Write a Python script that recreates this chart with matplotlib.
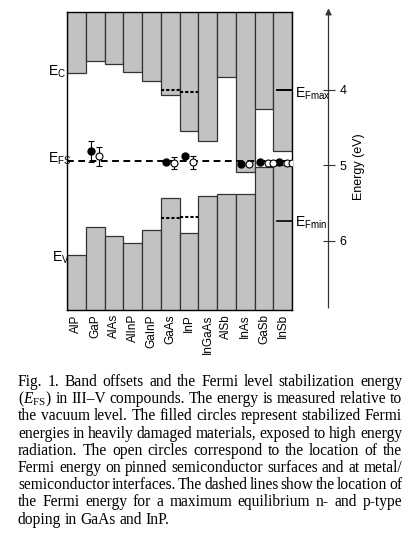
import matplotlib
matplotlib.use("Agg")
import matplotlib.pyplot as plt
import numpy as np

plt.rcParams["font.family"] = ["Liberation Sans", "DejaVu Sans"]
plt.rcParams["mathtext.fontset"] = "custom"
plt.rcParams["mathtext.rm"] = "Liberation Serif"
plt.rcParams["mathtext.it"] = "Liberation Serif:italic"
plt.rcParams["mathtext.default"] = "regular"

# Band edges relative to vacuum level (eV, drawn downwards)
materials = ["AlP", "GaP", "AlAs", "AlInP", "GaInP", "GaAs", "InP",
             "InGaAs", "AlSb", "InAs", "GaSb", "InSb"]
e_cond = [3.78, 3.61, 3.66, 3.76, 3.885, 4.06, 4.54, 4.67, 3.83, 5.09, 4.25, 4.81]
e_val = [6.19, 5.82, 5.93, 6.03, 5.85, 5.43, 5.90, 5.41, 5.38, 5.38, 5.02, 4.99]
e_fs = 4.945
e_fmax = 4.0
e_fmin = 5.73

# Fermi level at max n/p doping (dashed lines)
dop_mat = ["GaAs", "InP"]
dop_n = [4.00, 4.03]
dop_p = [5.70, 5.68]

# filled = damaged material, open = pinned surfaces / interfaces
filled_mat = ["GaP", "GaAs", "InP", "InAs", "GaSb", "InSb"]
filled_e = [4.81, 4.96, 4.88, 4.98, 4.96, 4.96]
filled_err = [0.14, 0, 0, 0, 0, 0]
open_mat = ["GaP", "GaAs", "InP", "InAs", "GaSb", "GaSb", "InSb", "InSb"]
open_e = [4.88, 4.97, 4.96, 4.98, 4.97, 4.97, 4.97, 4.97]
open_err = [0.13, 0.08, 0.09, 0, 0, 0, 0, 0]

energy_ticks = [4, 5, 6]
e_top, e_bot = 2.967, 6.914

caption = [
    "Fig. 1. Band offsets and the Fermi level stabilization energy",
    r"($\mathit{E}_\mathrm{FS}$) in III–V compounds. The energy is measured relative to",
    "the vacuum level. The filled circles represent stabilized Fermi",
    "energies in heavily damaged materials, exposed to high energy",
    "radiation. The open circles correspond to the location of the",
    "Fermi energy on pinned semiconductor surfaces and at metal/",
    "semiconductor interfaces. The dashed lines show the location of",
    "the Fermi energy for a maximum equilibrium n- and p-type",
    "doping in GaAs and InP.",
]

W, H = 417, 533
fig = plt.figure(figsize=(W / 100, H / 100), dpi=100)
ax = fig.add_axes([67 / W, 1 - 310 / H, 225 / W, 298 / H])

gray, edge = "#c2c2c2", "#333333"
x = np.arange(len(materials))
pos = {m: i for i, m in enumerate(materials)}
ec = np.array(e_cond)
ev = np.array(e_val)
ax.bar(x, ec - (e_top - 0.1), bottom=e_top - 0.1, width=1.0,
       color=gray, edgecolor=edge, lw=0.9)
ax.bar(x, (e_bot + 0.1) - ev, bottom=ev, width=1.0,
       color=gray, edgecolor=edge, lw=0.9)

ax.set_xlim(-0.5, len(materials) - 0.5)
ax.set_ylim(e_bot, e_top)
ax.set_yticks([])
ax.set_xticks(x)
ax.set_xticklabels(materials, rotation=90, fontsize=8.5)
ax.tick_params(axis="x", length=0, pad=3)
for s in ax.spines.values():
    s.set_linewidth(1.0)
    s.set_color("black")

# stabilization energy
ax.axhline(e_fs, color="black", lw=1.4, ls=(0, (3.5, 2.3)), zorder=4)

# max doping levels
for m, en, ep in zip(dop_mat, dop_n, dop_p):
    i = pos[m]
    ax.plot([i - 0.5, i + 0.5], [en, en], color="black", lw=1.5,
            ls=(0, (1.5, 1.0)), zorder=4)
    ax.plot([i - 0.5, i + 0.5], [ep, ep], color="black", lw=1.5,
            ls=(0, (1.5, 1.0)), zorder=4)

# E_Fmax / E_Fmin in InSb
j = len(materials) - 1
ax.plot([j - 0.3, j + 0.5], [e_fmax, e_fmax], color="black", lw=1.4, zorder=4)
ax.plot([j - 0.3, j + 0.5], [e_fmin, e_fmin], color="black", lw=1.2, zorder=4)
ax.text(j + 0.66, e_fmax + 0.05, "E$_{Fmax}$", fontsize=10, va="center",
        ha="left", clip_on=False)
ax.text(j + 0.66, e_fmin + 0.03, "E$_{Fmin}$", fontsize=10, va="center",
        ha="left", clip_on=False)

# points
fx = [pos[m] - 0.22 for m in filled_mat]
ax.errorbar(fx, filled_e, yerr=filled_err, fmt="o", ms=5, mfc="black",
            mec="black", ecolor="black", elinewidth=0.8, capsize=2.5,
            capthick=0.8, zorder=6)
seen = {}
ox = []
for m in open_mat:
    k = seen.get(m, 0)
    seen[m] = k + 1
    ox.append(pos[m] + 0.22 + 0.26 * k)
ax.errorbar(ox, open_e, yerr=open_err, fmt="o", ms=5, mfc="white",
            mec="black", mew=0.8, ecolor="black", elinewidth=0.8, capsize=2.5,
            capthick=0.8, zorder=6)

# level labels on the left
ax.text(-1.53, e_cond[0] - 0.02, "E$_C$", fontsize=10, ha="left", va="center",
        clip_on=False)
ax.text(-1.53, e_fs - 0.04, "E$_{FS}$", fontsize=10, ha="left", va="center",
        clip_on=False)
ax.text(-1.3, e_val[0] + 0.03, "E$_V$", fontsize=10, ha="left", va="center",
        clip_on=False)

# energy scale
eax = fig.add_axes([0.70, 1 - 310 / H, 328.5 / W - 0.70, 298 / H])
eax.patch.set_visible(False)
for s in eax.spines.values():
    s.set_visible(False)
eax.set_ylim(e_bot, e_top)
eax.set_xticks([])
eax.yaxis.tick_right()
eax.set_yticks(energy_ticks)
eax.set_yticklabels([str(t) for t in energy_ticks])
eax.tick_params(axis="y", direction="inout", length=8, width=0.8,
                labelsize=9, pad=4, color="#333333")
eax.annotate("", xy=(1, 1.012), xytext=(1, 0.007), xycoords="axes fraction",
             arrowprops=dict(arrowstyle="-|>", lw=0.9, color="#333333",
                             mutation_scale=9, shrinkA=0, shrinkB=0))
eax.set_ylabel("Energy (eV)", fontsize=9, rotation=90)
eax.yaxis.set_label_coords(365 / W, 1 - 167 / H, transform=fig.transFigure)

# caption, justified like the printed figure
r = fig.canvas.get_renderer()
left, right = 18, 402
for n, line in enumerate(caption):
    y = 1 - (386 + n * 17.2) / H
    words = line.split(" ")
    texts = [fig.text(0, y, w, fontsize=11.2, family="Liberation Serif",
                      va="baseline", ha="left") for w in words]
    widths = [t.get_window_extent(r).width for t in texts]
    if n == len(caption) - 1:
        gap = 3.5
    else:
        gap = (right - left - sum(widths)) / (len(words) - 1)
    xp = left
    for t, w in zip(texts, widths):
        t.set_x(xp / W)
        xp += w + gap

fig.savefig("out.png", dpi=100)
